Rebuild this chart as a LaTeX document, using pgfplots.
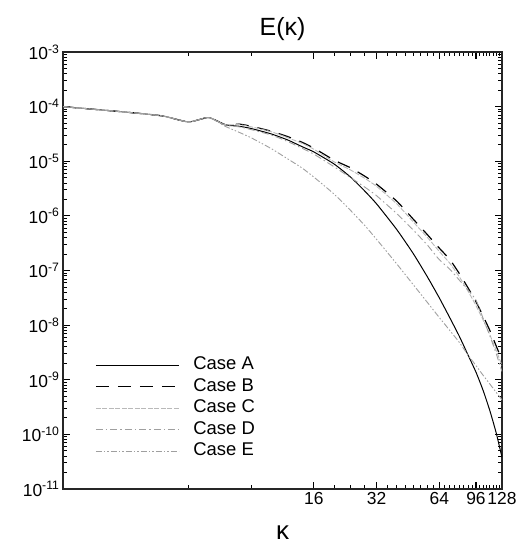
\documentclass[border=0pt]{standalone}
\usepackage{pgfplots}
\pgfplotsset{compat=1.18}
\usepackage{fontspec}
\setmainfont{Liberation Sans}
\begin{document}
\begin{tikzpicture}
\begin{axis}[
  name=ax,
  scale only axis,
  width=439bp, height=437bp,
  xmode=log, ymode=log,
  xmin=1, xmax=128, ymin=1e-11, ymax=1e-3,
  xtick={16,32,64,96,128},
  xticklabels={16,32,64,96,128},
  minor xtick={4,8,20,24,28,36,40,44,48,52,56,60,68,72,76,80,84,88,92,100,104,108,112,116,120,124},
  ytick={1e-11,1e-10,1e-9,1e-8,1e-7,1e-6,1e-5,1e-4,1e-3},
  minor ytick={2e-11,3e-11,4e-11,5e-11,6e-11,7e-11,8e-11,9e-11,
    2e-10,3e-10,4e-10,5e-10,6e-10,7e-10,8e-10,9e-10,
    2e-9,3e-9,4e-9,5e-9,6e-9,7e-9,8e-9,9e-9,
    2e-8,3e-8,4e-8,5e-8,6e-8,7e-8,8e-8,9e-8,
    2e-7,3e-7,4e-7,5e-7,6e-7,7e-7,8e-7,9e-7,
    2e-6,3e-6,4e-6,5e-6,6e-6,7e-6,8e-6,9e-6,
    2e-5,3e-5,4e-5,5e-5,6e-5,7e-5,8e-5,9e-5,
    2e-4,3e-4,4e-4,5e-4,6e-4,7e-4,8e-4,9e-4},
  yticklabels={10\textsuperscript{-11},10\textsuperscript{-10},10\textsuperscript{-9},10\textsuperscript{-8},10\textsuperscript{-7},10\textsuperscript{-6},10\textsuperscript{-5},10\textsuperscript{-4},10\textsuperscript{-3}},
  tick label style={font=\fontsize{17.5}{19}\selectfont},
  tick align=inside,
  major tick length=7bp, minor tick length=4bp,
  tick style={line width=1.2pt, black},
  minor tick style={line width=0.9pt, black},
  axis line style={line width=1.6pt, black!85},
  title={E(κ)},
  title style={font=\fontsize{25}{28}\selectfont, yshift=2bp},
  xlabel={κ},
  xlabel style={font=\fontsize{26}{28}\selectfont, yshift=-14bp},
  legend cell align=left,
  legend style={draw=none, fill=none, at={(rel axis cs:0.073,0.303)}, anchor=north west,
    font=\fontsize{18.5}{20}\selectfont, inner sep=0pt, row sep=5bp,
    nodes={inner sep=0pt, text height=13bp, text depth=3.5bp},
    column sep=14bp},
  legend image code/.code={\draw[#1] (0bp,0bp) -- (83bp,0bp);},
]
\addplot[black, line width=1pt, smooth, tension=0.35] coordinates {
(1,1.00e-4) (2,7.94e-5) (3,6.76e-5) (4,5.25e-5) (5,6.31e-5) (6,4.68e-5)
(7,4.37e-5) (8,3.98e-5) (10,3.16e-5) (12,2.45e-5) (14,1.86e-5) (16,1.48e-5)
(20,8.91e-6) (24,5.13e-6) (28,2.88e-6) (32,1.66e-6) (40,5.62e-7) (48,2.04e-7)
(56,7.76e-8) (64,3.16e-8) (72,1.35e-8) (80,6.17e-9) (88,2.82e-9) (96,1.38e-9)
(104,6.31e-10) (112,2.69e-10) (120,1.07e-10) (128,3.80e-11)};
\addlegendentry{Case A}
\addplot[black, line width=1.2pt, dash pattern=on 13bp off 9bp, smooth, tension=0.35] coordinates {
(1,1.00e-4) (2,7.94e-5) (3,6.76e-5) (4,5.25e-5) (5,6.31e-5) (6,4.68e-5)
(7,4.79e-5) (8,4.37e-5) (10,3.55e-5) (12,2.82e-5) (14,2.24e-5) (16,1.74e-5)
(20,1.05e-5) (24,7.59e-6) (28,5.37e-6) (32,3.80e-6) (40,1.86e-6) (48,8.71e-7)
(56,4.57e-7) (64,2.57e-7) (72,1.58e-7) (80,8.71e-8) (88,4.79e-8) (96,2.69e-8)
(104,1.45e-8) (112,7.94e-9) (120,4.17e-9) (128,2.29e-9)};
\addlegendentry{Case B}
\addplot[gray!55, line width=0.9pt, dash pattern=on 5bp off 1.5bp, smooth, tension=0.35] coordinates {
(1,1.00e-4) (2,7.94e-5) (3,6.76e-5) (4,5.25e-5) (5,6.31e-5) (6,4.68e-5)
(7,4.68e-5) (8,4.27e-5) (10,3.47e-5) (12,2.69e-5) (14,2.14e-5) (16,1.66e-5)
(20,9.77e-6) (24,6.92e-6) (28,4.90e-6) (32,3.47e-6) (40,1.66e-6) (48,7.76e-7)
(56,4.07e-7) (64,2.24e-7) (72,1.35e-7) (80,7.59e-8) (88,4.17e-8) (96,2.29e-8)
(104,1.23e-8) (112,6.61e-9) (120,3.47e-9) (128,1.82e-9)};
\addlegendentry{Case C}
\addplot[gray!75, line width=0.9pt, dash pattern=on 7bp off 3bp on 1.5bp off 3bp, smooth, tension=0.35] coordinates {
(1,1.00e-4) (2,7.94e-5) (3,6.76e-5) (4,5.25e-5) (5,6.31e-5) (6,4.57e-5)
(7,4.27e-5) (8,3.80e-5) (10,3.02e-5) (12,2.29e-5) (14,1.74e-5) (16,1.35e-5)
(20,7.94e-6) (24,5.01e-6) (28,3.39e-6) (32,2.34e-6) (40,1.10e-6) (48,5.50e-7)
(56,2.95e-7) (64,1.58e-7) (72,1.05e-7) (80,6.61e-8) (88,4.37e-8) (96,2.88e-8)
(104,1.32e-8) (112,6.31e-9) (120,3.02e-9) (128,1.41e-9)};
\addlegendentry{Case D}
\addplot[gray!75, line width=0.9pt, dash pattern=on 6bp off 2bp on 1.5bp off 2bp on 1.5bp off 2bp, smooth, tension=0.35] coordinates {
(1,1.00e-4) (2,7.94e-5) (3,6.76e-5) (4,5.25e-5) (5,6.31e-5) (6,4.37e-5)
(7,3.39e-5) (8,2.69e-5) (10,1.70e-5) (12,1.10e-5) (14,7.59e-6) (16,5.13e-6)
(20,2.51e-6) (24,1.26e-6) (28,6.76e-7) (32,3.72e-7) (40,1.32e-7) (48,5.50e-8)
(56,2.63e-8) (64,1.38e-8) (72,7.94e-9) (80,4.79e-9) (88,2.82e-9) (96,1.82e-9)
(104,1.20e-9) (112,8.32e-10) (120,5.89e-10) (128,4.27e-10)};
\addlegendentry{Case E}
\end{axis}
\path ([shift={(-63bp,-55bp)}]ax.south west) rectangle ([shift={(21bp,52bp)}]ax.north east);
\end{tikzpicture}
\end{document}
